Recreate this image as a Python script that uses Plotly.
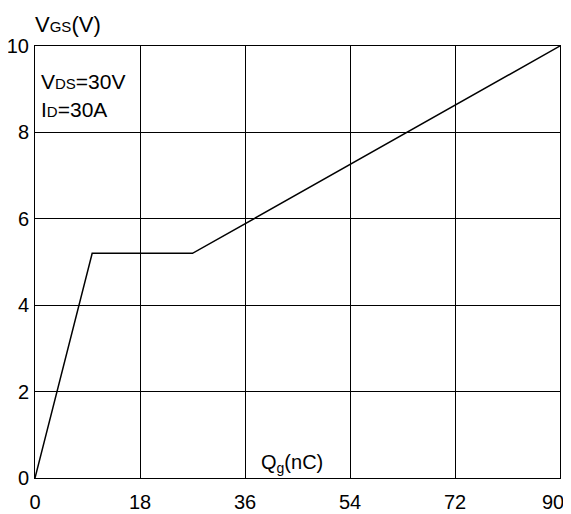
import plotly.graph_objects as go

qg = [0, 9.8, 27, 90]
vgs = [0, 5.2, 5.2, 10]
x_ticks = [0, 18, 36, 54, 72, 90]
x_tick_labels = ["0", "18", "36", "54", "72", "90\u2002\u2009"]
y_ticks = [0, 2, 4, 6, 8, 10]
y_tick_labels = ["0", "2", "4", "6", "8", "10"]

FONT = "Liberation Sans, Arial, sans-serif"

fig = go.Figure()
fig.add_trace(go.Scatter(x=qg, y=vgs, mode="lines",
                         line=dict(color="black", width=1.5), showlegend=False,
                         hoverinfo="skip"))

fig.update_layout(
    width=580, height=512,
    margin=dict(l=27, r=28, t=38, b=42, autoexpand=False),
    paper_bgcolor="white", plot_bgcolor="white",
    font=dict(family=FONT, size=20, color="black"),
    xaxis=dict(range=[0, 90], tickvals=x_ticks, ticktext=x_tick_labels,
               showgrid=True, gridcolor="black", gridwidth=1,
               showline=True, linecolor="black", linewidth=1, mirror=True,
               zeroline=False, ticks="", ticklabelstandoff=6, automargin=False,
               ticklabeloverflow="allow"),
    yaxis=dict(range=[0, 10], tickvals=y_ticks, ticktext=y_tick_labels,
               showgrid=True, gridcolor="black", gridwidth=1,
               showline=True, linecolor="black", linewidth=1, mirror=True,
               zeroline=False, ticks="", ticklabelstandoff=1, automargin=False,
               ticklabeloverflow="allow"),
)

fig.add_annotation(xref="paper", yref="paper", x=0, y=1, xanchor="left", yanchor="bottom",
                   yshift=7, xshift=-2, text="V<span style='font-size:15px'>GS</span>(V)",
                   showarrow=False, font=dict(family=FONT, size=22))
fig.add_annotation(xref="paper", yref="paper", x=0, y=0.917, xanchor="left", yanchor="middle",
                   xshift=4, text="V<span style='font-size:15px'>DS</span>=30V",
                   showarrow=False, font=dict(family=FONT, size=21))
fig.add_annotation(xref="paper", yref="paper", x=0, y=0.852, xanchor="left", yanchor="middle",
                   xshift=4, text="I<span style='font-size:15px'>D</span>=30A",
                   showarrow=False, font=dict(family=FONT, size=21))
fig.add_annotation(xref="x", yref="paper", x=44, y=0, xanchor="center", yanchor="middle",
                   yshift=15, text="Q<sub>g</sub>(nC)",
                   showarrow=False, font=dict(family=FONT, size=20))

fig.write_html("out.html")
